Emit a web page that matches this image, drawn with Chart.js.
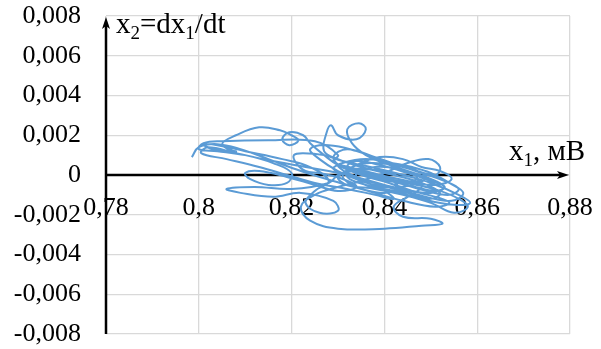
<!DOCTYPE html>
<html><head><meta charset="utf-8">
<script src="https://cdn.jsdelivr.net/npm/chart.js@4/dist/chart.umd.min.js"></script>
<style>html,body{margin:0;padding:0;background:#fff}#wrap{width:601px;height:349px}</style>
</head><body><div id="wrap"><canvas id="c" width="601" height="349"></canvas></div>
<script>
// Phase trajectory x1 (mV) vs x2 = dx1/dt
const x1Values = [0.7985,0.8000,0.8040,0.8090,0.8150,0.8220,0.8290,0.8350,0.8400,0.8430,0.8400,0.8340,0.8300,0.8320,0.8380,0.8450,0.8500,0.8520,0.8480,0.8420,0.8350,0.8300,0.8270,0.8275,0.8285,0.8300,0.8340,0.8360,0.8345,0.8320,0.8330,0.8360,0.8400,0.8450,0.8500,0.8530,0.8510,0.8450,0.8380,0.8320,0.8290,0.8300,0.8250,0.8150,0.8050,0.8010,0.8000,0.8040,0.8100,0.8160,0.8200,0.8190,0.8150,0.8110,0.8100,0.8130,0.8190,0.8250,0.8300,0.8340,0.8310,0.8260,0.8230,0.8210,0.8205,0.8225,0.8270,0.8310,0.8370,0.8440,0.8500,0.8560,0.8585,0.8550,0.8480,0.8420,0.8360,0.8320,0.8330,0.8370,0.8420,0.8470,0.8510,0.8520,0.8495,0.8450,0.8400,0.8350,0.8300,0.8250,0.8220,0.8240,0.8300,0.8400,0.8480,0.8525,0.8500,0.8440,0.8420,0.8450,0.8480,0.8470,0.8420,0.8360,0.8310,0.8290,0.8320,0.8380,0.8430,0.8480,0.8530,0.8560,0.8540,0.8490,0.8430,0.8370,0.8330,0.8300,0.8280,0.8200,0.8120,0.8060,0.8090,0.8160,0.8220,0.8290,0.8300,0.8260,0.8230,0.8250,0.8280,0.8240,0.8180,0.8100,0.8040,0.8010,0.8030,0.8080,0.8080,0.8050,0.8080,0.8130,0.8175,0.8200,0.8215,0.8195,0.8180,0.8195,0.8225,0.8240,0.8270,0.8300,0.8350,0.8410,0.8460,0.8510,0.8540,0.8510,0.8440,0.8380,0.8330,0.8310,0.8340,0.8390,0.8440,0.8480,0.8520,0.8545,0.8510,0.8450,0.8390,0.8340,0.8300,0.8320,0.8380,0.8440,0.8500,0.8550,0.8580,0.8560,
  0.8520,0.8470,0.8410,0.8360,0.8320,0.8340,0.8390,0.8450,0.8500,0.8530,0.8500,0.8440,0.8380,0.8330,0.8290,0.8310,0.8360,0.8410,0.8460,0.8490,0.8460,0.8400,0.8350,0.8300,0.8260,0.8240,0.8280,0.8340,0.8400,0.8460,0.8500,0.8540,0.8570,0.8545,0.8490,0.8430,0.8370,0.8320,0.8280,0.8230,0.8160,0.8080,0.8020,0.8005,0.8060,0.8130,0.8190,0.8250,0.8320,0.8380,0.8420,0.8400,0.8350,0.8340,0.8380,0.8430,0.8470,0.8450,0.8400,0.8360];
const x2Values = [0.0009,0.0014,0.00155,0.0013,0.0008,0.0002,-0.0003,-0.0007,-0.0009,-0.0006,-0.0001,0.0003,0.0005,0.0001,-0.0004,-0.0009,-0.0012,-0.0009,-0.0004,0.0000,0.0004,0.0008,0.0012,0.0021,0.0025,0.0020,0.0018,0.0023,0.0026,0.0023,0.0016,0.0010,0.0006,0.0002,-0.0002,-0.0006,-0.0008,-0.0005,-0.0001,0.0003,0.0007,0.0010,0.0017,0.00175,0.0017,0.0016,0.0013,0.0012,0.0010,0.0006,0.0001,-0.0004,-0.0005,-0.0002,0.0001,0.0002,-0.0001,-0.0005,-0.0008,-0.0006,-0.0002,0.0001,0.0002,0.0006,0.0010,0.0011,0.0010,0.0007,0.0004,0.0000,-0.0004,-0.0010,-0.0014,-0.0015,-0.0012,-0.0008,-0.0005,-0.0001,0.0004,0.0006,0.0005,0.0002,0.0000,0.0004,0.0008,0.0006,0.0001,-0.0003,-0.0006,-0.0010,-0.0016,-0.0023,-0.0027,-0.0027,-0.00255,-0.00245,-0.0022,-0.0021,-0.0016,-0.0011,-0.0006,-0.0002,0.0001,0.0003,0.0004,0.0009,0.0013,0.0009,0.0005,0.0001,-0.0003,-0.0007,-0.0010,-0.0008,-0.0004,-0.0001,0.0002,0.0000,-0.0004,-0.0007,-0.0006,-0.0007,-0.0009,-0.0011,-0.0009,-0.0013,-0.0018,-0.0019,-0.0014,-0.0008,-0.0003,0.0004,0.0008,0.0012,0.0015,0.00155,0.0013,0.0012,0.00115,0.00155,0.0020,0.0024,0.00225,0.0020,0.00175,0.0015,0.0018,0.00215,0.0020,0.0016,0.0010,0.0005,0.0000,-0.0004,-0.0008,-0.0011,-0.0014,-0.0016,-0.0013,-0.0009,-0.0005,0.0000,0.0005,0.0009,0.0008,0.0004,0.0002,-0.0002,-0.0005,-0.0003,0.0000,0.0002,-0.0001,-0.0005,-0.0007,-0.0010,-0.0014,-0.0019,-0.0016,-0.0012,
  -0.0008,-0.0005,-0.0002,0.0001,0.0004,0.0007,0.0005,0.0001,-0.0003,-0.0006,-0.0009,-0.0007,-0.0004,-0.0001,0.0003,0.0006,0.0008,0.0006,0.0003,-0.0001,-0.0005,-0.0006,-0.0003,0.0002,0.0008,0.0013,0.0015,0.0012,0.0007,0.0004,0.0001,-0.0004,-0.0009,-0.0013,-0.0011,-0.0007,-0.0003,0.0000,0.0002,0.0004,0.0007,0.0011,0.0014,0.0011,0.0008,0.0004,0.0000,-0.0004,-0.0007,-0.0010,-0.0012,-0.0008,-0.0004,0.0001,0.0004,0.0003,-0.0001,-0.0004,-0.0002,0.0002];
const xTicks = [0.78,0.80,0.82,0.84,0.86,0.88];
const yTicks = [-0.008,-0.006,-0.004,-0.002,0,0.002,0.004,0.006,0.008];

const points = x1Values.map((x,i)=>({x:x, y:x2Values[i]}));
const FONT = '"Liberation Serif", "Times New Roman", serif';

function fmt(v, digits){
  if (Math.abs(v) < 1e-12) return '0';
  return String(Number(v.toFixed(digits))).replace('.', ',');
}

const axesPlugin = {
  id: 'axesArrows',
  beforeDatasetsDraw(chart){
    const {ctx, chartArea:a, scales:{x, y}} = chart;
    const y0 = y.getPixelForValue(0);
    ctx.save();
    ctx.strokeStyle = '#000'; ctx.fillStyle = '#000'; ctx.lineWidth = 2.5;
    ctx.beginPath(); ctx.moveTo(a.left, a.bottom); ctx.lineTo(a.left, a.top + 8); ctx.stroke();
    ctx.beginPath(); ctx.moveTo(a.left, a.top + 1); ctx.lineTo(a.left - 4, a.top + 13); ctx.lineTo(a.left, a.top + 10); ctx.lineTo(a.left + 4, a.top + 13); ctx.closePath(); ctx.fill();
    ctx.beginPath(); ctx.moveTo(a.left, y0); ctx.lineTo(a.right - 8, y0); ctx.stroke();
    ctx.beginPath(); ctx.moveTo(a.right - 1, y0); ctx.lineTo(a.right - 13, y0 - 4); ctx.lineTo(a.right - 10, y0); ctx.lineTo(a.right - 13, y0 + 4); ctx.closePath(); ctx.fill();
    ctx.restore();
  },
  afterDraw(chart){
    const {ctx} = chart;
    ctx.save();
    ctx.fillStyle = '#000';
    ctx.textBaseline = 'alphabetic';
    function run(parts, x, yb){
      let cx = x;
      for (const [t, sub] of parts){
        ctx.font = (sub ? '19px ' : '29px ') + FONT;
        ctx.fillText(t, cx, yb + (sub ? 6 : 0));
        cx += ctx.measureText(t).width;
      }
    }
    run([['x',0],['2',1],['=dx',0],['1',1],['/dt',0]], 116, 33);
    run([['x',0],['1',1],[', мВ',0]], 509, 160);
    ctx.restore();
  }
};

new Chart(document.getElementById('c'), {
  type: 'scatter',
  data: { datasets: [{
    data: points,
    showLine: true,
    borderColor: '#5b9bd5',
    borderWidth: 2,
    pointRadius: 0,
    tension: 0.4,
    fill: false
  }]},
  options: {
    responsive: false,
    animation: false,
    layout: { padding: { left: 0, top: 16, right: 31, bottom: 15 } },
    plugins: { legend: { display: false }, tooltip: { enabled: false } },
    scales: {
      x: {
        type: 'linear',
        position: { y: 0 },
        min: 0.78, max: 0.88,
        afterBuildTicks(s){ s.ticks = xTicks.map(v=>({value:v})); },
        afterFit(s){ s.height = 0; s.paddingLeft = 0; s.paddingRight = 0; s.paddingTop = 0; s.paddingBottom = 0; },
        grid: { color: '#d9d9d9', lineWidth: 1.3, drawTicks: false },
        border: { display: false },
        ticks: { padding: 18, color: '#000', font: { family: FONT, size: 26 }, maxRotation: 0,
          callback: v => fmt(v, 2) }
      },
      y: {
        type: 'linear',
        position: 'left',
        min: -0.008, max: 0.008,
        afterBuildTicks(s){ s.ticks = yTicks.map(v=>({value:v})); },
        afterFit(s){ s.width = 106; s.paddingTop = 0; s.paddingBottom = 0; },
        grid: { color: '#d9d9d9', lineWidth: 1.3, drawTicks: false },
        border: { display: false },
        ticks: { padding: 25, color: '#000', font: { family: FONT, size: 26 },
          callback: v => fmt(v, 3) }
      }
    }
  },
  plugins: [axesPlugin]
});
</script></body></html>
